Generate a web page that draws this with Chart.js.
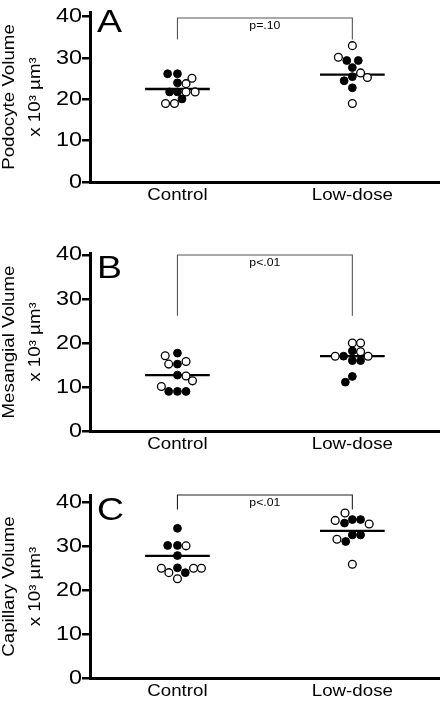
<!DOCTYPE html>
<html><head><meta charset="utf-8">
<script src="https://cdn.jsdelivr.net/npm/chart.js@4"></script>
<style>
html,body{margin:0;padding:0;background:#fff;overflow:hidden}
#wrap{position:relative;width:445px;height:701px}
canvas{position:absolute;left:0}
</style></head>
<body><div id="wrap">
<canvas id="cA" width="445" height="205" style="top:0px"></canvas>
<canvas id="cB" width="445" height="239" style="top:215px"></canvas>
<canvas id="cC" width="445" height="237" style="top:464px"></canvas>
</div>
<script>
// ---------- data ----------
const categories = ['Control', 'Low-dose'];
const yTicks = [0, 10, 20, 30, 40];

// Panel A: Podocyte volume
const aTitle = ['Podocyte Volume', 'x 10³ µm³'];
const aCtrlFilledY  = [26.2, 26.2, 24.0, 21.8, 21.8, 20.1];
const aCtrlFilledDx = [-0.056, 0, 0, -0.045, 0, 0.026];
const aCtrlOpenY    = [25.1, 23.8, 21.8, 21.8, 19.0, 19.0];
const aCtrlOpenDx   = [0.083, 0.049, 0.049, 0.101, -0.068, -0.017];
const aLowFilledY   = [29.4, 29.4, 27.7, 25.5, 24.5, 22.8];
const aLowFilledDx  = [-0.032, 0.034, 0, 0, -0.047, 0];
const aLowOpenY     = [33.0, 30.2, 26.4, 25.3, 19.0];
const aLowOpenDx    = [0, -0.08, 0.047, 0.086, 0];
const aMeans        = [22.5, 26.0];
const aBracket      = [34.5, 39.7];   // leg end, top
const aPText        = 'p=.10';

// Panel B: Mesangial volume
const bTitle = ['Mesangial Volume', 'x 10³ µm³'];
const bCtrlFilledY  = [17.7, 15.2, 12.7, 9.0, 9.0, 9.0];
const bCtrlFilledDx = [0, 0, 0, -0.05, 0, 0.049];
const bCtrlOpenY    = [17.1, 15.2, 15.8, 12.5, 11.4, 10.1];
const bCtrlOpenDx   = [-0.07, -0.05, 0.049, 0.049, 0.086, -0.092];
const bLowFilledY   = [18.2, 17.0, 16.0, 16.0, 12.4, 11.1];
const bLowFilledDx  = [0, -0.05, 0, 0.047, 0, -0.04];
const bLowOpenY     = [20.0, 20.0, 18.0, 17.0, 17.0];
const bLowOpenDx    = [0, 0.047, 0.047, -0.098, 0.09];
const bMeans        = [12.7, 17.0];
const bBracket      = [26.2, 40.0];
const bPText        = 'p<.01';

// Panel C: Capillary volume
const cTitle = ['Capillary Volume', 'x 10³ µm³'];
const cCtrlFilledY  = [34.1, 30.2, 30.2, 27.9, 25.1, 24.0];
const cCtrlFilledDx = [0, -0.056, 0, 0, 0, 0.045];
const cCtrlOpenY    = [30.1, 25.0, 24.0, 25.0, 25.0, 22.6];
const cCtrlOpenDx   = [0.049, -0.092, -0.049, 0.092, 0.137, 0];
const cLowFilledY   = [35.3, 36.1, 36.1, 32.6, 32.6, 31.1];
const cLowFilledDx  = [-0.045, 0, 0.047, 0, 0.047, -0.038];
const cLowOpenY     = [37.6, 35.9, 35.1, 31.6, 25.9];
const cLowOpenDx    = [-0.042, -0.098, 0.096, -0.088, 0];
const cMeans        = [27.8, 33.5];
const cBracket      = [38.4, 41.7];
const cPText        = 'p<.01';

// ---------- rendering ----------
const FONT = "'Liberation Sans', Arial, Helvetica, sans-serif";
const STRETCH = 1.17;

function stretchCtx(ctx) {
  const orig = ctx.fillText.bind(ctx);
  ctx.fillText = function (t, x, y) {
    ctx.save(); ctx.translate(x, y); ctx.scale(STRETCH, 1); orig(t, 0, 0); ctx.restore();
  };
}

function pts(group, ys, dxs) { return ys.map((v, i) => ({ x: group + dxs[i], y: v })); }

const annot = {
  id: 'annot',
  afterDraw(chart, args, o) {
    const ctx = chart.ctx, xs = chart.scales.x, ys = chart.scales.y;
    ctx.save();
    ctx.fillStyle = '#000';
    ctx.font = '32px ' + FONT;
    ctx.textAlign = 'left'; ctx.textBaseline = 'alphabetic';
    ctx.fillText(o.letter, chart.chartArea.left + 7, o.letterY);
    ctx.font = '10.5px ' + FONT;
    ctx.textAlign = 'center'; ctx.textBaseline = 'middle';
    ctx.fillText(o.pText, xs.getPixelForValue(1.5), ys.getPixelForValue(o.bracketTop) + 8.5);
    ctx.restore();
  }
};

function makePanel(id, cfg) {
  const canvas = document.getElementById(id);
  const ctx = canvas.getContext('2d');
  stretchCtx(ctx);
  const dot = (data, filled) => ({
    type: 'scatter', data, pointRadius: 3.9, pointHoverRadius: 3.9,
    pointBorderWidth: filled ? 1 : 1.3, pointBorderColor: '#000',
    pointBackgroundColor: filled ? '#000' : '#fff', showLine: false, clip: false
  });
  const line = (data, w, c) => ({
    type: 'line', data, borderColor: c, borderWidth: w, pointRadius: 0,
    fill: false, tension: 0, clip: false
  });
  const datasets = [
    dot(pts(1, cfg.cof[0], cfg.cof[1]), true),
    dot(pts(1, cfg.coo[0], cfg.coo[1]), false),
    dot(pts(2, cfg.lof[0], cfg.lof[1]), true),
    dot(pts(2, cfg.loo[0], cfg.loo[1]), false),
    line([{ x: 1 - 0.185, y: cfg.means[0] }, { x: 1 + 0.185, y: cfg.means[0] }], 2.3, '#000'),
    line([{ x: 2 - 0.185, y: cfg.means[1] }, { x: 2 + 0.185, y: cfg.means[1] }], 2.3, '#000'),
    line([{ x: 1, y: cfg.bracket[0] }, { x: 1, y: cfg.bracket[1] }, { x: 2, y: cfg.bracket[1] }, { x: 2, y: cfg.bracket[0] }], 1.1, cfg.bracketColor)
  ];
  return new Chart(ctx, {
    type: 'scatter',
    data: { datasets },
    options: {
      responsive: false, animation: false, devicePixelRatio: 1,
      layout: { padding: { top: cfg.padTop, left: 0, right: 0, bottom: 0 } },
      plugins: {
        legend: { display: false }, tooltip: { enabled: false },
        annot: { letter: cfg.letter, letterY: cfg.letterY, pText: cfg.pText, bracketTop: cfg.bracket[1] }
      },
      scales: {
        x: {
          type: 'linear', min: 0.5, max: 2.5,
          afterBuildTicks: s => { s.ticks = categories.map((c, i) => ({ value: i + 1 })); },
          afterFit: s => { s.height = 23; },
          ticks: { callback: v => categories[v - 1], color: '#000', font: { family: FONT, size: 16 }, padding: 4, maxRotation: 0, autoSkip: false },
          grid: { display: true, drawOnChartArea: false, drawTicks: false },
          border: { display: true, width: 3, color: '#000' }
        },
        y: {
          type: 'linear', min: 0, max: cfg.max,
          afterBuildTicks: s => { s.ticks = yTicks.map(v => ({ value: v })); },
          afterFit: s => { s.width = 90; },
          ticks: { color: '#000', font: { family: FONT, size: 20 }, padding: 0 },
          grid: { display: true, drawOnChartArea: false, drawTicks: true, tickLength: 8, lineWidth: 2.5, color: '#000' },
          border: { display: true, width: 3, color: '#000' },
          title: { display: true, text: cfg.title, color: '#000', font: { family: FONT, size: 16, lineHeight: 1.6 }, padding: { top: -3, bottom: 0 } }
        }
      }
    },
    plugins: [annot]
  });
}

makePanel('cA', { title: aTitle, letter: 'A', letterY: 32, pText: aPText, max: 41.14, padTop: 1,
  cof: [aCtrlFilledY, aCtrlFilledDx], coo: [aCtrlOpenY, aCtrlOpenDx],
  lof: [aLowFilledY, aLowFilledDx], loo: [aLowOpenY, aLowOpenDx],
  means: aMeans, bracket: aBracket, bracketColor: '#555' });
makePanel('cB', { title: bTitle, letter: 'B', letterY: 63, pText: bPText, max: 40.45, padTop: 38,
  cof: [bCtrlFilledY, bCtrlFilledDx], coo: [bCtrlOpenY, bCtrlOpenDx],
  lof: [bLowFilledY, bLowFilledDx], loo: [bLowOpenY, bLowOpenDx],
  means: bMeans, bracket: bBracket, bracketColor: '#555' });
makePanel('cC', { title: cTitle, letter: 'C', letterY: 56, pText: cPText, max: 41.69, padTop: 31,
  cof: [cCtrlFilledY, cCtrlFilledDx], coo: [cCtrlOpenY, cCtrlOpenDx],
  lof: [cLowFilledY, cLowFilledDx], loo: [cLowOpenY, cLowOpenDx],
  means: cMeans, bracket: cBracket, bracketColor: '#222' });
</script>
</body></html>
